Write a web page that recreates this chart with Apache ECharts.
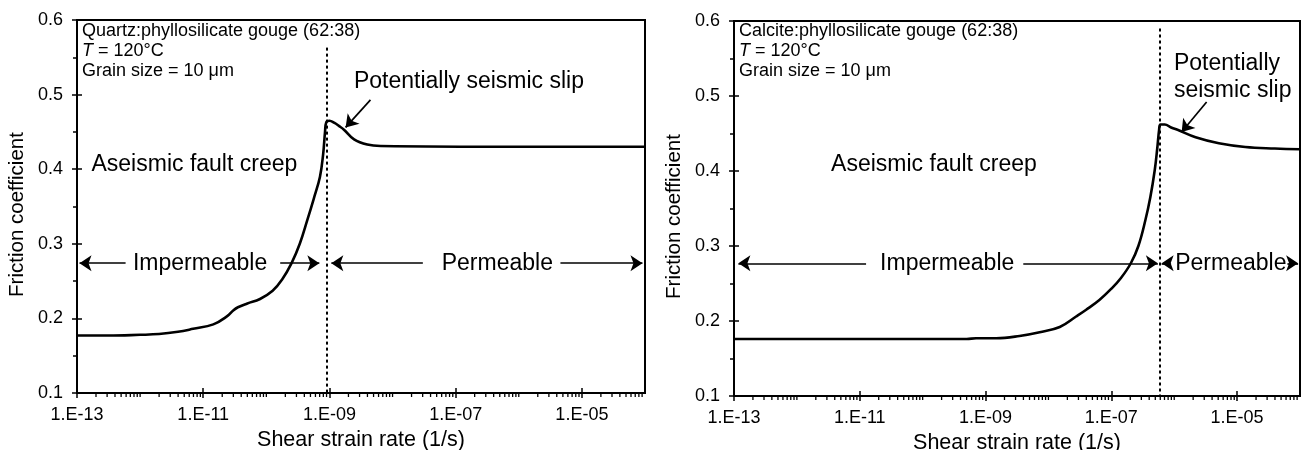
<!DOCTYPE html>
<html>
<head>
<meta charset="utf-8">
<title>Friction coefficient vs shear strain rate</title>
<script src="https://cdn.jsdelivr.net/npm/echarts@6/dist/echarts.min.js"></script>
<style>
  html, body { margin: 0; padding: 0; background: #ffffff; }
  #chart { width: 1304px; height: 450px; }
</style>
</head>
<body>
<div id="chart"></div>
<script>
// ---- Data: log10 of shear strain rate (1/s) and steady-state friction coefficient ----
const quartzLogRate = [-13, -12.5, -12, -11.7, -11.4, -11.16, -10.84, -10.62, -10.52, -10.45, -10.3, -10.1,
  -9.9, -9.75, -9.6, -9.47, -9.35, -9.25, -9.15, -9.1, -9.07, -9.05, -9.0, -8.92, -8.85, -8.77, -8.61,
  -8.4, -8.19, -6, -4];
const quartzFriction = [0.177, 0.177, 0.178, 0.179, 0.182, 0.186, 0.192, 0.203, 0.211, 0.215, 0.220, 0.226,
  0.237, 0.252, 0.274, 0.300, 0.332, 0.360, 0.390, 0.420, 0.450, 0.463, 0.465, 0.462, 0.458, 0.453, 0.440,
  0.433, 0.431, 0.430, 0.430];

const calciteLogRate = [-13, -11, -9.3, -9.15, -8.83, -8.46, -8.14, -7.82, -7.56, -7.4, -7.19, -7.0, -6.85,
  -6.69, -6.57, -6.46, -6.38, -6.31, -6.27, -6.24, -6.22, -6.15, -6.05, -5.92, -5.66, -5.29, -4.87, -4.4, -4];
const calciteFriction = [0.176, 0.176, 0.176, 0.177, 0.177, 0.180, 0.185, 0.192, 0.206, 0.215, 0.228, 0.243, 0.257,
  0.277, 0.300, 0.334, 0.365, 0.401, 0.430, 0.455, 0.462, 0.462, 0.458, 0.454, 0.445, 0.437, 0.432, 0.430, 0.429];

// Strain rate (log10) at the impermeable / permeable transition
const quartzTransition = -9.05;
const calciteTransition = -6.23;

// Axis ticks
const rateTickExponents = [-13, -11, -9, -7, -5];
const rateRange = [-13, -4];
const frictionRange = [0.1, 0.6];

// ---- Styling ----
const FONT = '"Liberation Sans", Arial, Helvetica, sans-serif';
const INK = '#000000';

function rateLabel(v) {
  const e = Math.round(v);
  if (Math.abs(v - e) > 1e-6 || rateTickExponents.indexOf(e) < 0) return '';
  const a = Math.abs(e);
  return '1.E' + (e < 0 ? '-' : '+') + (a < 10 ? '0' : '') + a;
}

// Logarithmic minor tick positions (2..9 within each decade, plus unlabelled decades)
const minorRateTicks = [];
for (let d = rateRange[0]; d < rateRange[1]; d++) {
  for (let m = 1; m <= 9; m++) {
    if (m === 1 && rateTickExponents.indexOf(d) >= 0) continue;
    minorRateTicks.push(d + Math.log10(m));
  }
}

// ---- Panel layout ----
const panels = [
  {
    grid: { left: 77, top: 20, width: 568, height: 373 },
    logRate: quartzLogRate, friction: quartzFriction,
    transition: quartzTransition, transitionTop: 0.563,
    material: 'Quartz:phyllosilicate gouge (62:38)', infoY: 0.559,
    creepAt: [-11.14, 0.406],
    slip: { at: [-6.79, 0.517], text: 'Potentially seismic slip', position: 'inside', align: 'center' },
    pointer: [[-8.35, 0.493], [-8.744, 0.456]],
    arrowY: 0.274,
    impermAt: -11.05, impermSegs: [[-12.23, -12.96], [-9.78, -9.16]],
    permAt: -6.34, permSegs: [[-7.52, -8.97], [-5.34, -4.04]]
  },
  {
    grid: { left: 734, top: 21, width: 566, height: 375 },
    logRate: calciteLogRate, friction: calciteFriction,
    transition: calciteTransition, transitionTop: 0.59,
    material: 'Calcite:phyllosilicate gouge (62:38)', infoY: 0.5597,
    creepAt: [-9.82, 0.408],
    slip: { at: [-6.005, 0.5257], text: 'Potentially\nseismic slip', position: 'right', align: 'left' },
    pointer: [[-5.485, 0.492], [-5.882, 0.452]],
    arrowY: 0.277,
    impermAt: -9.61, impermSegs: [[-10.9, -12.93], [-8.40, -6.26]],
    permAt: -5.1, permSegs: [[-6.05, -6.2], [-4.2, -4.03]]
  }
];

const grid = [], xAxis = [], yAxis = [], series = [];

panels.forEach((p, i) => {
  grid.push(Object.assign({
    show: true, borderColor: INK, borderWidth: 2, backgroundColor: 'transparent',
    containLabel: false, outerBoundsMode: 'none'
  }, p.grid));

  // strain-rate axis: labels and outward ticks
  xAxis.push({
    gridIndex: i, type: 'value', position: 'bottom',
    min: rateRange[0], max: rateRange[1], interval: 2,
    axisLine: { show: true, lineStyle: { color: INK, width: 2 } },
    axisTick: { show: true, length: 5, lineStyle: { color: INK, width: 1.5 } },
    axisLabel: { formatter: rateLabel, color: INK, fontSize: 18, fontFamily: FONT, margin: 13,
      showMaxLabel: false },
    splitLine: { show: false },
    name: 'Shear strain rate (1/s)', nameLocation: 'middle', nameGap: 35,
    nameTextStyle: { color: INK, fontSize: 21.5, fontFamily: FONT }
  });
  // same scale, inward half of the crossing major ticks
  xAxis.push({
    gridIndex: i, type: 'value', position: 'bottom',
    min: rateRange[0], max: rateRange[1], interval: 2,
    axisLine: { show: false },
    axisTick: { show: true, inside: true, length: 5, lineStyle: { color: INK, width: 1.5 } },
    axisLabel: { show: false }, splitLine: { show: false }
  });

  yAxis.push({
    gridIndex: i, type: 'value', position: 'left',
    min: frictionRange[0], max: frictionRange[1], interval: 0.1,
    axisLine: { show: true, lineStyle: { color: INK, width: 2 } },
    axisTick: { show: true, length: 5, lineStyle: { color: INK, width: 1.5 } },
    minorTick: { show: true, splitNumber: 2, length: 4, lineStyle: { color: INK, width: 1.5 } },
    axisLabel: { formatter: v => v.toFixed(1), color: INK, fontSize: 18, fontFamily: FONT, margin: 14 },
    splitLine: { show: false },
    name: 'Friction coefficient', nameLocation: 'middle', nameGap: 49,
    nameTextStyle: { color: INK, fontSize: 20.5, fontFamily: FONT, padding: [0, 0, 0, -16] }
  });
  yAxis.push({
    gridIndex: i, type: 'value', position: 'left',
    min: frictionRange[0], max: frictionRange[1], interval: 0.1,
    axisLine: { show: false },
    axisTick: { show: true, inside: true, length: 5, lineStyle: { color: INK, width: 1.5 } },
    axisLabel: { show: false }, splitLine: { show: false }
  });

  const xi = 2 * i, yi = 2 * i;
  const arrowLine = { color: INK, width: 1.7, type: 'solid' };
  const seg = (a, b, y) => [
    { coord: [a, y], symbol: 'none', lineStyle: arrowLine },
    { coord: [b, y], symbol: 'arrow', symbolSize: 12 }
  ];

  const lines = [
    [
      { coord: [p.transition, p.transitionTop], symbol: 'none',
        lineStyle: { color: INK, width: 2, type: [3, 3] } },
      { coord: [p.transition, frictionRange[0]], symbol: 'none' }
    ],
    [
      { coord: p.pointer[0], symbol: 'none', lineStyle: arrowLine },
      { coord: p.pointer[1], symbol: 'arrow', symbolSize: 12 }
    ]
  ];
  p.impermSegs.forEach(s => lines.push(seg(s[0], s[1], p.arrowY)));
  p.permSegs.forEach(s => lines.push(seg(s[0], s[1], p.arrowY)));

  const textItem = (coord, text, extra) => ({
    coord: coord, symbol: 'circle', symbolSize: 0,
    label: Object.assign({ show: true, formatter: text, position: 'inside', color: INK,
      fontSize: 23, fontFamily: FONT }, extra || {})
  });

  const points = [
    {
      coord: [rateRange[0], p.infoY], symbol: 'circle', symbolSize: 0,
      label: {
        show: true, position: 'right', distance: 5, align: 'left',
        formatter: '{a|' + p.material + '}\n{i|T}{a| = 120°C}\n{a|Grain size = 10 μm}',
        rich: {
          a: { fontSize: 18, lineHeight: 20, color: INK, fontFamily: FONT },
          i: { fontSize: 18, lineHeight: 20, color: INK, fontFamily: FONT, fontStyle: 'italic' }
        }
      }
    },
    textItem(p.creepAt, 'Aseismic fault creep'),
    textItem(p.slip.at, p.slip.text,
      { position: p.slip.position, align: p.slip.align, distance: 0, lineHeight: 27 }),
    textItem([p.impermAt, p.arrowY], 'Impermeable'),
    textItem([p.permAt, p.arrowY], 'Permeable')
  ];

  series.push({
    type: 'line', xAxisIndex: xi, yAxisIndex: yi,
    data: p.logRate.map((r, k) => [r, p.friction[k]]),
    showSymbol: false, smooth: 0.4,
    lineStyle: { color: INK, width: 2.6 },
    markLine: { silent: true, animation: false, label: { show: false }, data: lines },
    markPoint: { silent: true, animation: false, data: points },
    z: 3
  });

  series.push({
    type: 'custom', xAxisIndex: xi, yAxisIndex: yi, silent: true, clip: false,
    data: minorRateTicks.map(v => [v, frictionRange[0]]),
    renderItem: (params, api) => {
      const pt = api.coord([api.value(0), api.value(1)]);
      return {
        type: 'line',
        shape: { x1: pt[0], y1: pt[1], x2: pt[0], y2: pt[1] + 4 },
        style: { stroke: INK, lineWidth: 1.3 }
      };
    }
  });
});

const chart = echarts.init(document.getElementById('chart'), null, { renderer: 'canvas' });
chart.setOption({
  backgroundColor: '#ffffff',
  animation: false,
  textStyle: { fontFamily: FONT, color: INK },
  grid: grid, xAxis: xAxis, yAxis: yAxis, series: series
});
</script>
</body>
</html>
